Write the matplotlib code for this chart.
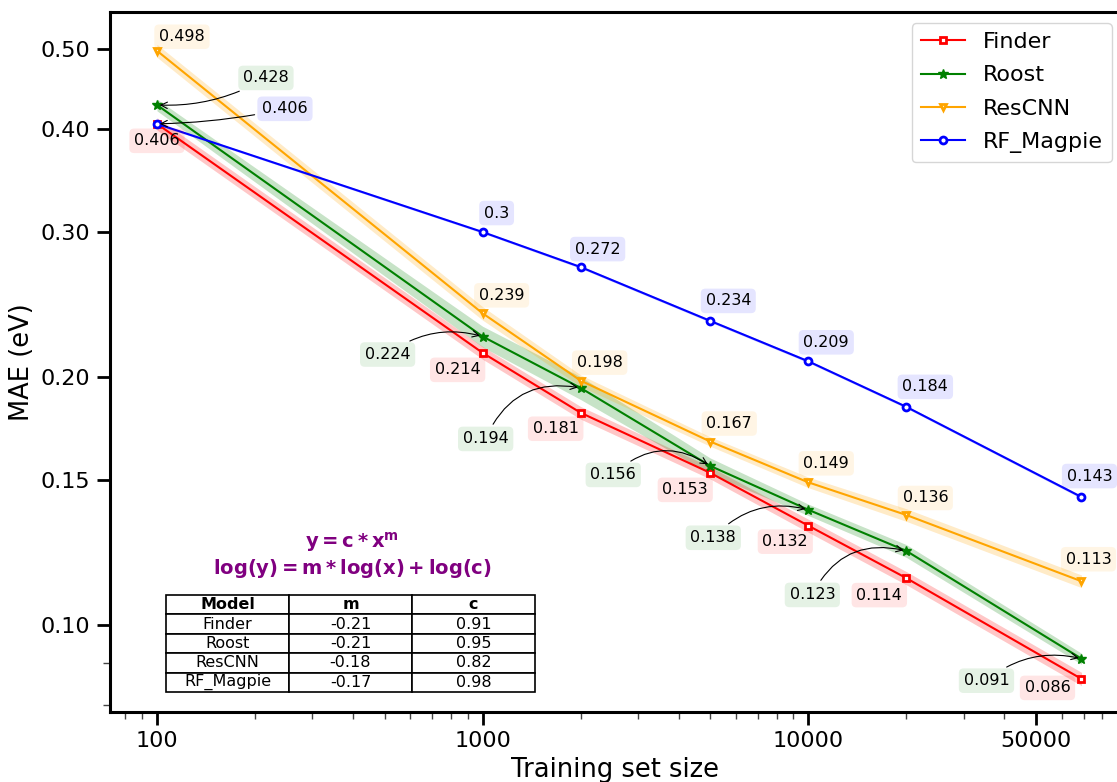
import numpy as np
import matplotlib.pyplot as plt
from matplotlib.ticker import FixedLocator, LogLocator, NullFormatter, FormatStrFormatter

# training set sizes
sizes = [100, 1000, 2000, 5000, 10000, 20000, 69000]

# MAE per model
finder = [0.406, 0.214, 0.181, 0.153, 0.132, 0.114, 0.086]
roost = [0.428, 0.224, 0.194, 0.156, 0.138, 0.123, 0.091]
rescnn = [0.498, 0.239, 0.198, 0.167, 0.149, 0.136, 0.113]
rf_magpie = [0.406, 0.3, 0.272, 0.234, 0.209, 0.184, 0.143]

# spread over runs (shaded band)
finder_std = [0.007, 0.0038, 0.0032, 0.0026, 0.0024, 0.0021, 0.0016]
roost_std = [0.007, 0.0065, 0.0062, 0.0035, 0.0022, 0.0022, 0.0014]
rescnn_std = [0.009, 0.0045, 0.0032, 0.0022, 0.0022, 0.0024, 0.002]
rf_magpie_std = [0.0012, 0.001, 0.001, 0.0009, 0.0008, 0.0007, 0.0006]

# power-law fit table
fit_models = ['Finder', 'Roost', 'ResCNN', 'RF_Magpie']
fit_m = ['-0.21', '-0.21', '-0.18', '-0.17']
fit_c = ['0.91', '0.95', '0.82', '0.98']

xticks = [100, 1000, 10000, 50000]
yticks = [0.10, 0.15, 0.20, 0.30, 0.40, 0.50]

# label offsets in pixels (dx, dy) and arrow curvature (None = no arrow)
finder_off = [(0, -17), (-25, -17), (-25, -16), (-25, -17), (-23, -16), (-27, -17), (-34, -9)]
finder_rad = [None] * 7
roost_off = [(109, 27), (-95, -18), (-95, -51), (-97, -9), (-95, -28), (-94, -44), (-95, -22)]
roost_rad = [-0.15, -0.25, -0.4, -0.4, -0.3, -0.4, -0.25]
rescnn_off = [(25, 14), (19, 18), (19, 18), (19, 18), (18, 19), (19, 17), (7, 22)]
rescnn_rad = [None] * 7
rf_off = [(128, 15), (14, 19), (17, 18), (18, 20), (18, 19), (19, 20), (8, 21)]
rf_rad = [-0.05] + [None] * 6

fig = plt.figure(figsize=(11.17, 7.82), dpi=100)
ax = fig.add_axes([110 / 1117, 70 / 782, 1010 / 1117, 700 / 782])

series = [
    ('Finder', finder, finder_std, 'red', 's', finder_off, finder_rad),
    ('Roost', roost, roost_std, 'green', '*', roost_off, roost_rad),
    ('ResCNN', rescnn, rescnn_std, 'orange', 'v', rescnn_off, rescnn_rad),
    ('RF_Magpie', rf_magpie, rf_magpie_std, 'blue', 'o', rf_off, rf_rad),
]

x = np.array(sizes)
for name, vals, std, col, mk, offs, rads in series:
    y = np.array(vals)
    s = np.array(std)
    ax.fill_between(x, y - s, y + s, color=col, alpha=0.22, lw=0)
    if mk == '*':
        ax.plot(x, y, color=col, marker=mk, ms=7, lw=1.5, label=name)
    else:
        ax.plot(x, y, color=col, marker=mk, ms=5, mfc='white', mew=2, lw=1.5, label=name)
    for xi, yi, off, rad in zip(x, y, offs, rads):
        kw = {}
        if rad is not None:
            kw['arrowprops'] = dict(arrowstyle='->', color='black', lw=0.8,
                                    connectionstyle='arc3,rad=%s' % rad)
        ax.annotate('%g' % yi, (xi, yi), xytext=off, textcoords='offset pixels',
                    ha='center', va='center', fontsize=11.5,
                    bbox=dict(boxstyle='round,pad=0.3', fc=col, ec='none', alpha=0.1),
                    **kw)

ax.set_xscale('log')
ax.set_yscale('log')
ax.set_xlim(71.75, 90600)
ax.set_ylim(0.0784, 0.555)

ax.xaxis.set_major_locator(FixedLocator(xticks))
ax.xaxis.set_major_formatter(FormatStrFormatter('%d'))
ax.xaxis.set_minor_locator(LogLocator(base=10, subs=np.arange(2, 10)))
ax.xaxis.set_minor_formatter(NullFormatter())
ax.yaxis.set_major_locator(FixedLocator(yticks))
ax.yaxis.set_major_formatter(FormatStrFormatter('%.2f'))
ax.yaxis.set_minor_locator(LogLocator(base=10, subs=np.arange(2, 10)))
ax.yaxis.set_minor_formatter(NullFormatter())

ax.tick_params(which='major', length=9.5, width=2, labelsize=16, pad=4.5)
ax.tick_params(which='minor', length=5, width=1, color='#444444')
for sp in ax.spines.values():
    sp.set_linewidth(2.2)

ax.set_xlabel('Training set size', fontsize=18.5)
ax.set_ylabel('MAE (eV)', fontsize=18.5)

ax.legend(loc='upper right', bbox_to_anchor=(0.992, 0.984), borderaxespad=0,
          fontsize=16, handlelength=2.0, labelspacing=0.6)

ax.text(0.2396, 0.224, r'$\mathbf{y = c * x^m}$' + '\n' +
        r'$\mathbf{log(y) = m * log(x) + log(c)}$',
        transform=ax.transAxes, ha='center', va='center', color='purple',
        fontsize=14, linespacing=1.2)

cells = [[a, b, c] for a, b, c in zip(fit_models, fit_m, fit_c)]
tab = ax.table(cellText=cells, colLabels=['Model', 'm', 'c'], cellLoc='center',
               bbox=[56 / 1010, 20 / 700, 369 / 1010, 97 / 700])
tab.auto_set_font_size(False)
tab.set_fontsize(11.5)
for (r, c), cell in tab.get_celld().items():
    cell.set_linewidth(1.2)
    if r == 0:
        cell.get_text().set_fontweight('bold')

fig.savefig('out.png', dpi=100)
